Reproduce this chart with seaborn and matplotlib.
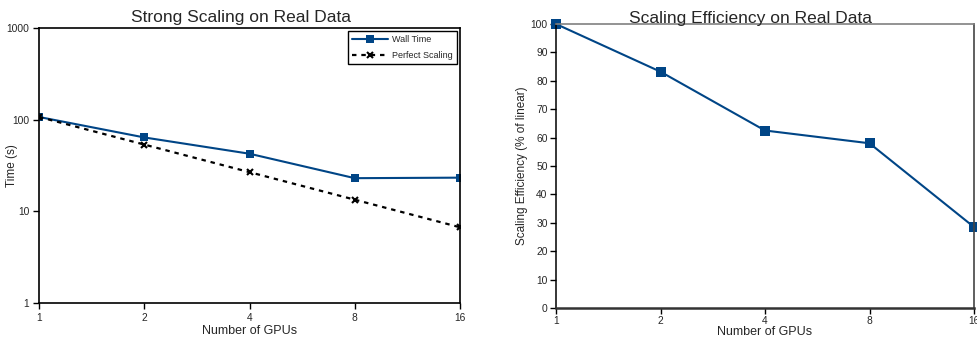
import pandas as pd
import matplotlib
matplotlib.use("Agg")
import matplotlib.pyplot as plt
import seaborn as sns

# --- data ---
gpus = [1, 2, 4, 8, 16]
wall_time = [107, 64, 42.5, 23, 23.3]
perfect_scaling = [107, 53.5, 26.75, 13.4, 6.7]
efficiency = [100, 83.2, 62.5, 58, 28.5]

BLUE = "#004586"

sns.set_theme(style="white")
plt.rcParams["font.family"] = ["Liberation Sans", "DejaVu Sans"]

df_time = pd.DataFrame({
    "gpus": gpus * 2,
    "time": wall_time + perfect_scaling,
    "serie": ["Wall Time"] * 5 + ["Perfect Scaling"] * 5,
})
df_eff = pd.DataFrame({"gpus": gpus, "eff": efficiency})

fig = plt.figure(figsize=(9.77, 3.39), dpi=100)
ax1 = fig.add_axes([39 / 977, 1 - 303 / 339, 421 / 977, 275 / 339])
ax2 = fig.add_axes([556 / 977, 1 - 308 / 339, 418 / 977, 284 / 339])

# --- left: strong scaling ---
sns.lineplot(data=df_time[df_time.serie == "Wall Time"], x="gpus", y="time",
             ax=ax1, color=BLUE, lw=1.5, marker="s", markersize=5.5,
             markeredgewidth=0, label="Wall Time")
sns.lineplot(data=df_time[df_time.serie == "Perfect Scaling"], x="gpus", y="time",
             ax=ax1, color="black", lw=1.6, dashes=(2, 2.2), marker="x",
             markersize=5, markeredgewidth=1.5, markeredgecolor="black",
             label="Perfect Scaling")
ax1.set_xscale("log", base=2)
ax1.set_yscale("log")
ax1.set_xlim(1, 16)
ax1.set_ylim(1, 1000)
ax1.set_xticks(gpus)
ax1.set_xticklabels([str(g) for g in gpus])
ax1.set_yticks([1, 10, 100, 1000])
ax1.set_yticklabels(["1", "10", "100", "1000"])
ax1.minorticks_off()
ax1.set_xlabel("Number of GPUs", fontsize=9, labelpad=2)
ax1.set_ylabel("Time (s)", fontsize=8.5)
ax1.yaxis.set_label_coords(-0.05, 0.5)
ax1.set_title("Strong Scaling on Real Data", fontsize=12.5, x=0.48, pad=4)
for s in ax1.spines.values():
    s.set_color("black")
    s.set_linewidth(1.2)
ax1.tick_params(axis="both", which="major", direction="out", length=4,
                width=1, color="black", labelsize=7.4, pad=3,
                bottom=True, left=True)
leg = ax1.legend(loc="upper right", fontsize=6.5, frameon=True, fancybox=False,
                 edgecolor="black", framealpha=1, borderaxespad=0.35,
                 handlelength=4.0, handletextpad=0.4, borderpad=0.45,
                 labelspacing=0.75)
leg.get_frame().set_linewidth(1.0)

# --- right: efficiency ---
sns.lineplot(data=df_eff, x="gpus", y="eff", ax=ax2, color=BLUE, lw=1.5,
             marker="s", markersize=7, markeredgewidth=0, clip_on=False)
ax2.set_xscale("log", base=2)
ax2.set_xlim(1, 16)
ax2.set_ylim(0, 100)
ax2.set_xticks(gpus)
ax2.set_xticklabels([str(g) for g in gpus])
ax2.set_yticks(range(0, 101, 10))
ax2.minorticks_off()
ax2.set_xlabel("Number of GPUs", fontsize=9, labelpad=0)
ax2.set_ylabel("Scaling Efficiency (% of linear)", fontsize=8.5)
ax2.yaxis.set_label_coords(-0.067, 0.5)
ax2.set_title("Scaling Efficiency on Real Data", fontsize=12.5, x=0.465, pad=1)
ax2.spines["left"].set_color("black")
ax2.spines["left"].set_linewidth(1.1)
ax2.spines["bottom"].set_color("#333333")
ax2.spines["bottom"].set_linewidth(1.8)
ax2.spines["top"].set_color("#808080")
ax2.spines["top"].set_linewidth(1.2)
ax2.spines["right"].set_color("#444444")
ax2.spines["right"].set_linewidth(1.2)
ax2.tick_params(axis="both", which="major", direction="out", length=4,
                width=1, color="black", labelsize=7.4, pad=2,
                bottom=True, left=True)

fig.savefig("out.png", dpi=100)
